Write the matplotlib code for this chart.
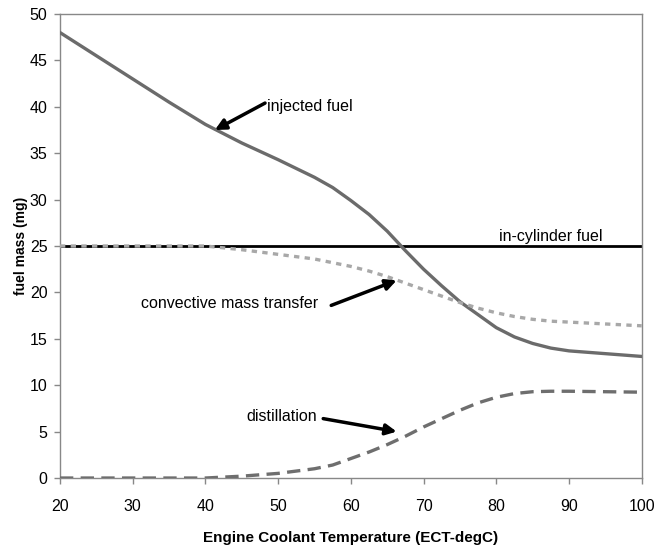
import matplotlib
matplotlib.use("Agg")
import matplotlib.pyplot as plt

plt.rcParams['font.family'] = ['Liberation Sans', 'DejaVu Sans']

temp = [20, 25, 30, 35, 40, 45, 50, 55, 57.5, 60, 62.5, 65, 67.5, 70, 72.5, 75, 77.5, 80, 82.5, 85, 87.5, 90, 95, 100]
injected = [48, 45.5, 43, 40.5, 38.1, 36.1, 34.3, 32.4, 31.3, 29.9, 28.4, 26.6, 24.5, 22.5, 20.7, 19.0, 17.6, 16.2, 15.2, 14.5, 14.0, 13.7, 13.4, 13.1]
in_cylinder = [25] * len(temp)
convective = [25, 25, 25, 25, 25, 24.6, 24.1, 23.6, 23.2, 22.8, 22.3, 21.7, 21.0, 20.3, 19.6, 18.9, 18.3, 17.8, 17.4, 17.1, 16.9, 16.8, 16.6, 16.4]
distillation = [0, 0, 0, 0, 0, 0.2, 0.5, 1.0, 1.4, 2.1, 2.8, 3.6, 4.5, 5.5, 6.4, 7.3, 8.1, 8.7, 9.1, 9.3, 9.35, 9.35, 9.3, 9.25]

xticks = [20, 30, 40, 50, 60, 70, 80, 90, 100]
yticks = [0, 5, 10, 15, 20, 25, 30, 35, 40, 45, 50]

fig = plt.figure(figsize=(6.65, 5.46), dpi=100)
ax = fig.add_axes([0.0902, 0.1245, 0.8748, 0.8499])

ax.plot(temp, in_cylinder, color='black', lw=2.0, zorder=2)
ax.plot(temp, injected, color='#6b6b6b', lw=2.4, zorder=3)
ax.plot(temp, convective, color='#a8a8a8', lw=2.4, ls=(0, (1.6, 1.6)), zorder=4)
ax.plot(temp, distillation, color='#6e6e6e', lw=2.4, ls=(0, (4, 2.2)), zorder=4)

ax.set_xlim(20, 100)
ax.set_ylim(0, 50)
ax.set_xticks(xticks)
ax.set_yticks(yticks)
ax.tick_params(axis='both', labelsize=11.5, length=4, width=1, color='#888888')
ax.tick_params(axis='x', pad=11)
ax.tick_params(axis='y', pad=5)
for s in ax.spines.values():
    s.set_color('#888888')
    s.set_linewidth(1.0)

ax.set_xlabel('Engine Coolant Temperature (ECT-degC)', fontsize=11, fontweight='bold', labelpad=12)
ax.set_ylabel('fuel mass (mg)', fontsize=10, fontweight='bold', labelpad=1)

arrow = dict(arrowstyle='-|>', color='black', lw=2.5, mutation_scale=16, shrinkA=0, shrinkB=0)
ax.annotate('', xy=(41.3, 37.5), xytext=(48.2, 40.4), arrowprops=arrow, zorder=6)
ax.text(48.5, 40.0, 'injected fuel', fontsize=11.5, ha='left', va='center')
ax.text(87.5, 26.0, 'in-cylinder fuel', fontsize=11.5, ha='center', va='center')
ax.annotate('', xy=(66.3, 21.3), xytext=(57.3, 18.6), arrowprops=arrow, zorder=6)
ax.text(55.5, 18.8, 'convective mass transfer', fontsize=11.5, ha='right', va='center')
ax.annotate('', xy=(66.3, 5.0), xytext=(56.2, 6.4), arrowprops=arrow, zorder=6)
ax.text(55.3, 6.6, 'distillation', fontsize=11.5, ha='right', va='center')

fig.savefig('out.png', dpi=100)
